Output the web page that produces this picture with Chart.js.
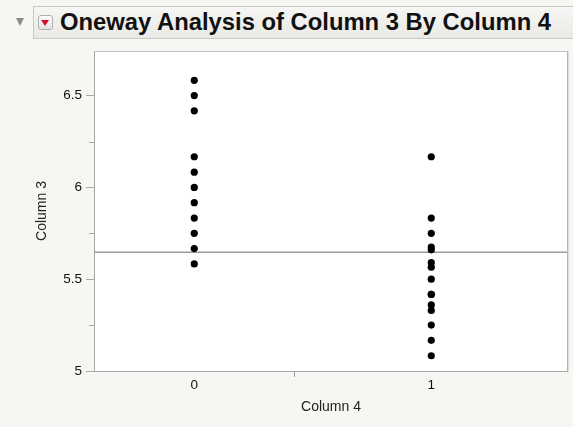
<!DOCTYPE html>
<html>
<head>
<meta charset="utf-8">
<script src="https://cdn.jsdelivr.net/npm/chart.js@4/dist/chart.umd.min.js"></script>
<style>
  html, body { margin:0; padding:0; background:#f7f6f2; }
  body { width:573px; height:427px; position:relative; overflow:hidden; font-family:"Liberation Sans", Arial, Helvetica, sans-serif; }
  #tri { position:absolute; left:16px; top:18px; width:0; height:0; border-left:4.5px solid transparent; border-right:4.5px solid transparent; border-top:8px solid #8a8a8a; }
  #hdr { position:absolute; left:33px; top:6px; width:560px; height:33px; border:1px solid #c9c9c6; background:linear-gradient(#f6f6f4,#e9e9e6); box-sizing:border-box; }
  #btn { position:absolute; left:4px; top:8px; width:15px; height:15px; border:1px solid #b0b0b0; border-radius:3px; background:linear-gradient(#ffffff,#e2e2e2); box-sizing:border-box; }
  #btn::after { content:""; position:absolute; left:2px; top:4px; border-left:4.5px solid transparent; border-right:4.5px solid transparent; border-top:6px solid #d4102a; }
  #title { position:absolute; left:26px; top:2px; font-weight:bold; font-size:23.8px; line-height:26px; color:#111; white-space:nowrap; }
  #wrap { position:absolute; left:0; top:0; width:573px; height:427px; }
</style>
</head>
<body>
<div id="wrap"><canvas id="c" width="573" height="427"></canvas></div>
<div id="tri"></div>
<div id="hdr"><div id="btn"></div><div id="title">Oneway Analysis of Column 3 By Column 4</div></div>
<script>
// ---- data ----
const categories = ['0', '1'];
const group0 = [6.583, 6.5, 6.417, 6.167, 6.083, 6.0, 5.917, 5.833, 5.75, 5.667, 5.583];
const group1 = [6.167, 5.833, 5.75, 5.675, 5.66, 5.59, 5.565, 5.5, 5.417, 5.417, 5.36, 5.33, 5.25, 5.167, 5.083];
const meanValue = 5.647;
const yMajorTicks = [5, 5.5, 6, 6.5];
const yMinorTicks = [5.25, 5.75, 6.25];
const yRange = [5, 6.743];

// x axis proportional to group size
const groups = [group0, group1];
const counts = groups.map(g => g.length);
const total = counts.reduce((a, b) => a + b, 0);
const starts = [0, counts[0]];
const centers = counts.map((n, i) => starts[i] + n / 2);
const divider = counts[0];

const datasets = groups.map((g, i) => ({
  type: 'scatter',
  data: g.map(v => ({ x: centers[i], y: v })),
  backgroundColor: '#000',
  borderColor: '#000',
  pointRadius: 3.6,
  pointHoverRadius: 3.6,
  borderWidth: 0
}));
datasets.push({
  type: 'line',
  data: [{ x: 0, y: meanValue }, { x: total, y: meanValue }],
  borderColor: '#9a9a9a',
  borderWidth: 1.5,
  pointRadius: 0,
  fill: false
});

const FONT = '"Liberation Sans", Arial, Helvetica, sans-serif';

const boxPlugin = {
  id: 'box',
  beforeDraw(chart) {
    const { ctx, chartArea: a } = chart;
    ctx.save();
    ctx.fillStyle = '#ffffff';
    ctx.fillRect(a.left, a.top, a.right - a.left, a.bottom - a.top);
    ctx.restore();
  },
  afterDraw(chart) {
    const { ctx, chartArea: a } = chart;
    ctx.save();
    ctx.strokeStyle = '#c4c4c4';
    ctx.lineWidth = 1;
    ctx.beginPath();
    ctx.moveTo(a.left + 0.5, a.top + 0.5);
    ctx.lineTo(a.right - 0.5, a.top + 0.5);
    ctx.stroke();
    ctx.strokeStyle = '#b4b4b4';
    ctx.beginPath();
    ctx.moveTo(a.right - 0.5, a.top);
    ctx.lineTo(a.right - 0.5, a.bottom);
    ctx.stroke();
    ctx.strokeStyle = '#dcdcdc';
    ctx.beginPath();
    ctx.moveTo(a.right + 0.5, a.top);
    ctx.lineTo(a.right + 0.5, a.bottom + 1);
    ctx.stroke();
    // minor y ticks
    const ys = chart.scales.y;
    ctx.strokeStyle = '#a8a8a8';
    ctx.beginPath();
    yMinorTicks.forEach(v => {
      const py = Math.round(ys.getPixelForValue(v)) + 0.5;
      ctx.moveTo(a.left - 5, py);
      ctx.lineTo(a.left, py);
    });
    ctx.stroke();
    ctx.restore();
  }
};

new Chart(document.getElementById('c'), {
  data: { datasets },
  options: {
    responsive: false,
    animation: false,
    events: [],
    layout: { padding: { top: 51, right: 5, bottom: 0, left: 0 } },
    plugins: { legend: { display: false }, tooltip: { enabled: false } },
    scales: {
      x: {
        type: 'linear',
        min: 0,
        max: total,
        afterBuildTicks(scale) {
          scale.ticks = [{ value: centers[0] }, { value: divider }, { value: centers[1] }];
        },
        afterFit(scale) { scale.height = 56; },
        ticks: {
          autoSkip: false,
          maxRotation: 0,
          padding: 0,
          color: '#111',
          font: { family: FONT, size: 13.5 },
          callback(v) {
            const i = centers.indexOf(v);
            return i >= 0 ? categories[i] : '';
          }
        },
        grid: {
          drawOnChartArea: false,
          drawTicks: true,
          tickLength: 6,
          tickColor: ctx => (ctx.tick && ctx.tick.value === divider) ? '#a0a0a0' : 'rgba(0,0,0,0)'
        },
        border: { display: true, color: '#a8a8a8', width: 1 },
        title: {
          display: true,
          text: 'Column 4',
          color: '#222',
          font: { family: FONT, size: 14 },
          padding: { top: 0, bottom: 11.5 }
        }
      },
      y: {
        type: 'linear',
        min: yRange[0],
        max: yRange[1],
        afterBuildTicks(scale) {
          scale.ticks = yMajorTicks.map(v => ({ value: v }));
        },
        afterFit(scale) { scale.width = 94; },
        ticks: {
          padding: 4,
          color: '#111',
          font: { family: FONT, size: 13.5 },
          callback: v => String(v)
        },
        grid: {
          drawOnChartArea: false,
          drawTicks: true,
          tickLength: 8,
          tickColor: '#a8a8a8'
        },
        border: { display: true, color: '#a8a8a8', width: 1 },
        title: {
          display: true,
          text: 'Column 3',
          color: '#222',
          font: { family: FONT, size: 14 },
          padding: { top: 33.5, bottom: 0 }
        }
      }
    }
  },
  plugins: [boxPlugin]
});
</script>
</body>
</html>
